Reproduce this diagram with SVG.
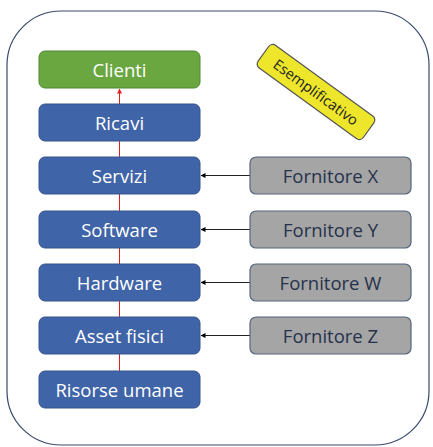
<svg xmlns="http://www.w3.org/2000/svg" width="433" height="447" viewBox="0 0 433 447">
<defs>
<style>
.blue{fill:#4064a8;stroke:#34548f;stroke-width:1}
.grey{fill:#a5a5a5;stroke:#56657f;stroke-width:1.2}
.t{font-family:"Open Sans","Liberation Sans",sans-serif;font-size:18.5px;text-anchor:middle;dominant-baseline:central}
.tw{fill:#ffffff}
.td{fill:#26324c}
</style>
<marker id="ab" viewBox="0 0 10 10" refX="9" refY="5" markerWidth="5" markerHeight="5" orient="auto"><path d="M0,0 L10,5 L0,10 z" fill="#000"/></marker>
<marker id="ar" viewBox="0 0 10 10" refX="9" refY="5" markerWidth="5" markerHeight="5" orient="auto"><path d="M0,0 L10,5 L0,10 z" fill="#e02020"/></marker>
</defs>
<rect x="0" y="0" width="433" height="447" fill="#ffffff"/>
<rect x="7" y="11" width="422" height="434" rx="54" ry="54" fill="#ffffff" stroke="#3a4a6c" stroke-width="1.2"/>
<g id="connectors">
<line x1="119.5" y1="371" x2="119.5" y2="89" stroke="#e02020" stroke-width="1" marker-end="url(#ar)"/>
<line x1="250" y1="175.5" x2="201" y2="175.5" stroke="#222" stroke-width="1" marker-end="url(#ab)"/>
<line x1="250" y1="229.5" x2="201" y2="229.5" stroke="#222" stroke-width="1" marker-end="url(#ab)"/>
<line x1="250" y1="282.5" x2="201" y2="282.5" stroke="#222" stroke-width="1" marker-end="url(#ab)"/>
<line x1="250" y1="335.5" x2="201" y2="335.5" stroke="#222" stroke-width="1" marker-end="url(#ab)"/>
</g>
<g id="clienti"><rect x="39" y="51" width="161" height="37" rx="6" fill="#6aa740" stroke="#4f8a30" stroke-width="1"/><text class="t tw" x="119.5" y="69.5">Clienti</text></g>
<g id="ricavi"><rect class="blue" x="39" y="104" width="161" height="37" rx="6"/><text class="t tw" x="119.5" y="122.5">Ricavi</text></g>
<g id="servizi"><rect class="blue" x="39" y="157" width="161" height="37" rx="6"/><text class="t tw" x="119.5" y="175.5">Servizi</text></g>
<g id="software"><rect class="blue" x="39" y="211" width="161" height="37" rx="6"/><text class="t tw" x="119.5" y="229.5">Software</text></g>
<g id="hardware"><rect class="blue" x="39" y="264" width="161" height="37" rx="6"/><text class="t tw" x="119.5" y="282.5">Hardware</text></g>
<g id="asset"><rect class="blue" x="39" y="317" width="161" height="37" rx="6"/><text class="t tw" x="119.5" y="335.5">Asset fisici</text></g>
<g id="risorse"><rect class="blue" x="39" y="371" width="161" height="37" rx="6"/><text class="t tw" x="119.5" y="389.5">Risorse umane</text></g>
<g id="fornX"><rect class="grey" x="250" y="157" width="161" height="37" rx="6"/><text class="t td" x="330.5" y="175.5">Fornitore X</text></g>
<g id="fornY"><rect class="grey" x="250" y="211" width="161" height="37" rx="6"/><text class="t td" x="330.5" y="229.5">Fornitore Y</text></g>
<g id="fornW"><rect class="grey" x="250" y="264" width="161" height="37" rx="6"/><text class="t td" x="330.5" y="282.5">Fornitore W</text></g>
<g id="fornZ"><rect class="grey" x="250" y="317" width="161" height="37" rx="6"/><text class="t td" x="330.5" y="335.5">Fornitore Z</text></g>
<g id="esemplificativo" transform="translate(316,92) rotate(36)"><rect x="-65" y="-14" width="130" height="28" rx="5" fill="#ede62a" stroke="#555" stroke-width="1.2"/><text class="t" x="0" y="0" style="font-size:14.5px;fill:#222">Esemplificativo</text></g>
</svg>
